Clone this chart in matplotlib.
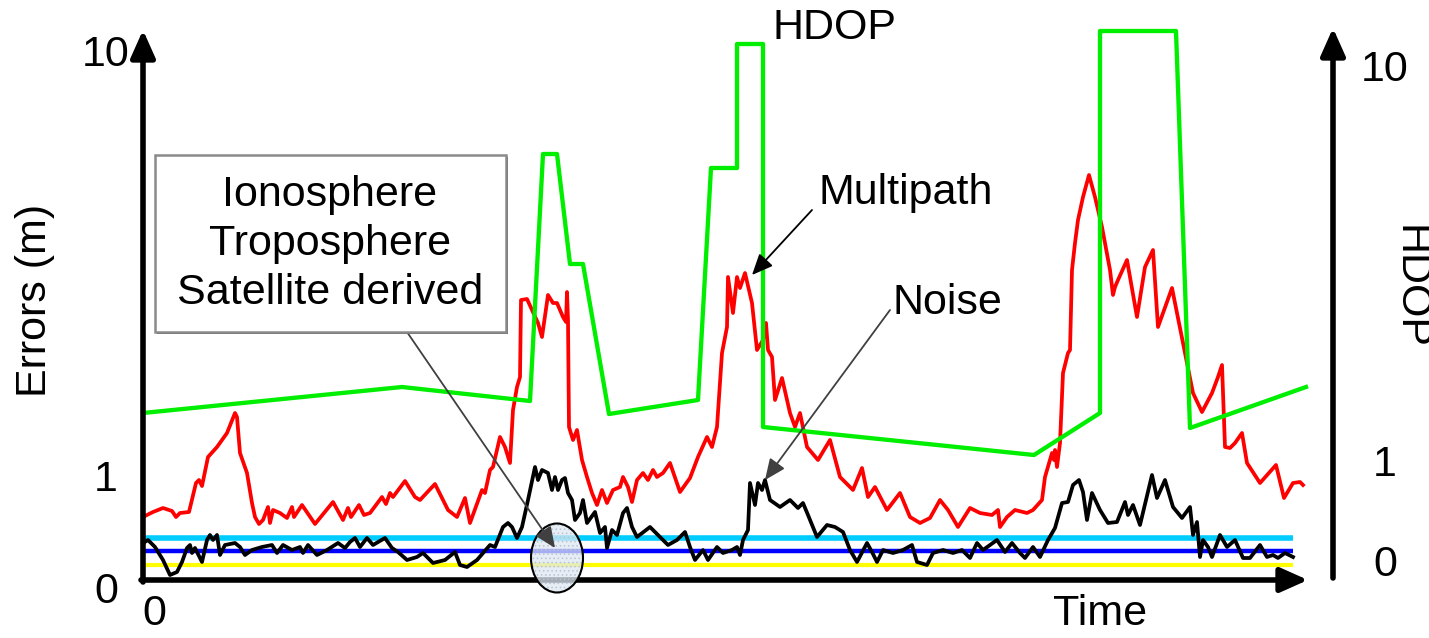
import matplotlib
matplotlib.use('Agg')
import matplotlib.pyplot as plt
from matplotlib.patches import Rectangle, Ellipse

plt.rcParams['font.family'] = ['Liberation Sans', 'DejaVu Sans']
plt.rcParams['hatch.linewidth'] = 0.6

# ---- data (schematic units: time, error display units) ----
multipath_t = [0, 10, 20, 29, 33, 37, 46, 53, 56, 59, 65, 74, 84, 92, 94, 97, 104, 109, 112, 116,
               120, 125, 127, 130, 137, 144, 149, 151, 159, 172, 190, 200, 205, 208, 216, 221, 227,
               239, 243, 247, 250, 262, 272, 277, 292, 305, 314, 322, 327, 339, 342, 347, 350, 357,
               362, 367, 370, 374, 377, 378, 384, 389, 395, 399, 405, 410, 414, 420, 423, 424, 425,
               426, 430, 434, 439, 444, 449, 454, 459, 464, 470, 477, 480, 485, 489, 494, 500, 505,
               510, 514, 520, 527, 537, 547, 555, 564, 569, 574, 579, 584, 585, 590, 594, 597, 602,
               609, 614, 620, 623, 625, 629, 632, 639, 647, 652, 657, 664, 675, 687, 697, 710, 719,
               725, 732, 744, 757, 767, 777, 787, 797, 805, 815, 827, 837, 849, 855, 857, 864, 872,
               884, 890, 899, 902, 909, 911, 912, 914, 917, 920, 925, 927, 929, 932, 935, 940, 946,
               952, 959, 967, 970, 972, 975, 984, 994, 1002, 1010, 1015, 1029, 1044, 1050, 1059,
               1069, 1075, 1079, 1082, 1087, 1092, 1099, 1104, 1117, 1133, 1141, 1150, 1157, 1160]
multipath_v = [63, 68, 72, 69, 63, 67, 68, 97, 100, 94, 123, 133, 147, 167, 163, 127, 107, 77, 63, 56,
               60, 73, 57, 70, 67, 62, 73, 63, 75, 56, 78, 60, 72, 63, 75, 65, 67,
               83, 76, 87, 83, 99, 83, 80, 96, 70, 63, 82, 57, 90, 87, 110, 113, 143,
               133, 117, 170, 193, 203, 280, 281, 270, 257, 243, 285, 277, 277, 263, 258, 288, 260,
               153, 140, 150, 120, 103, 87, 75, 90, 77, 90, 93, 103, 93, 78, 100, 107, 100,
               110, 103, 107, 117, 88, 102, 123, 143, 133, 153, 227, 253, 303, 267, 303, 292, 307,
               277, 230, 240, 257, 230, 223, 180, 202, 167, 153, 167, 133, 120, 140, 103, 90, 112,
               83, 93, 70, 87, 63, 57, 62, 80, 70, 53, 72, 67, 65, 70, 53, 63, 70,
               67, 70, 80, 103, 127, 120, 130, 113, 137, 207, 227, 230, 310, 337, 360, 383, 405,
               383, 353, 310, 285, 293, 300, 320, 263, 313, 330, 253, 292, 217, 187, 168,
               187, 203, 215, 133, 132, 137, 147, 117, 97, 115, 82, 97, 98, 95]

noise_t = [0, 5, 12, 20, 27, 34, 39, 44, 47, 49, 52, 59, 64, 67, 70, 74, 77, 82, 92, 97, 102, 109,
           119, 129, 134, 140, 149, 157, 160, 165, 174, 184, 195, 202, 207, 212, 217, 224, 230, 242,
           249, 255, 264, 274, 280, 290, 302, 312, 317, 324, 334, 340, 347, 352, 360, 365, 369, 374,
           379, 385, 392, 395, 399, 405, 409, 412, 415, 419, 422, 425, 429, 432, 437, 440, 444, 452,
           457, 462, 464, 469, 474, 480, 484, 489, 494, 507, 517, 525, 534, 542, 547, 552, 560, 565,
           574, 580, 589, 594, 597, 600, 605, 607, 612, 615, 619, 622, 627, 637, 647, 655, 660, 665,
           674, 684, 692, 700, 707, 714, 724, 729, 734, 740, 750, 760, 769, 774, 784, 790, 800, 810,
           819, 827, 834, 840, 847, 854, 862, 869, 877, 882, 890, 897, 905, 912, 919, 925, 930, 936,
           940, 944, 949, 957, 965, 974, 982, 985, 990, 997, 1009, 1014, 1022, 1030, 1039, 1047,
           1050, 1054, 1057, 1060, 1065, 1069, 1077, 1084, 1092, 1100, 1107, 1117, 1124, 1130,
           1135, 1142, 1150]
noise_v = [37, 40, 33, 20, 5, 8, 18, 32, 35, 27, 32, 18, 40, 45, 40, 45, 25, 35, 37, 33, 25, 30,
           33, 35, 27, 35, 30, 33, 27, 35, 25, 30, 37, 32, 38, 42, 33, 42, 35, 42,
           32, 28, 20, 23, 27, 17, 20, 28, 15, 13, 20, 27, 35, 33, 53, 57, 53, 42,
           53, 80, 113, 100, 110, 107, 90, 103, 90, 100, 102, 87, 80, 60, 67, 80, 57, 68,
           47, 53, 32, 50, 45, 67, 72, 53, 43, 53, 43, 35, 40, 48, 33, 20, 30, 20,
           33, 27, 30, 33, 25, 40, 50, 97, 75, 97, 90, 100, 80, 73, 80, 72, 77, 65,
           43, 55, 53, 48, 30, 18, 37, 28, 18, 30, 27, 30, 35, 18, 15, 27, 30, 27,
           30, 22, 37, 30, 35, 40, 28, 37, 27, 22, 33, 23, 40, 52, 77, 78, 95, 100,
           88, 60, 87, 70, 57, 58, 78, 65, 75, 55, 105, 82, 100, 73, 62, 73,
           45, 58, 23, 40, 33, 23, 45, 33, 40, 22, 22, 35, 23, 25,
           22, 27, 23]

hdop_t = [0, 259, 387, 400, 414, 427, 440, 466, 555, 568, 594, 594, 620, 620, 891, 957, 957,
          1033, 1047, 1163]
hdop_v = [167, 193, 179, 426, 426, 316, 316, 166, 180, 412, 412, 536, 536, 153, 125, 167, 549,
          549, 152, 193]

bias_levels = [42, 29, 15]          # ionosphere, troposphere, satellite derived
bias_colors = ['#00ccff', '#0000ff', '#ffff00']
bias_widths = [4.0, 3.2, 3.0]
bias_t = [0, 1150]

left_tick_pos = [-12, 100, 525]
left_tick_labels = ['0', '1', '10']
right_tick_pos = [15, 115, 510]
right_tick_labels = ['0', '1', '10']

FS = 31

fig = plt.figure(figsize=(14.29, 6.38), dpi=100)
ax = fig.add_axes([0, 0, 1, 1])
ax.set_xlim(-143, 1286)
ax.set_ylim(-58, 580)
ax.axis('off')

# constant bias lines
for lvl, c, w in zip(bias_levels, bias_colors, bias_widths):
    ax.plot(bias_t, [lvl, lvl], color=c, lw=w, solid_capstyle='butt', zorder=2)

# noise, multipath, hdop
ax.plot(noise_t, noise_v, color='black', lw=2.7, zorder=3, solid_joinstyle='round')
ax.plot(multipath_t, multipath_v, color='#ff0000', lw=2.7, zorder=4, solid_joinstyle='round')
ax.plot(hdop_t, hdop_v, color='#00ee00', lw=3.1, zorder=5)

# axes with arrows
akw = dict(arrowstyle='-|>,head_length=0.83,head_width=0.37', color='black', lw=4.0,
           mutation_scale=20, shrinkA=0, shrinkB=0)
ax.annotate('', xy=(0, 550), xytext=(0, -2), arrowprops=akw, zorder=6)
ax.annotate('', xy=(1165, 0), xytext=(-2, 0), arrowprops=akw, zorder=6)
ax.annotate('', xy=(1190, 552), xytext=(1190, 2), arrowprops=akw, zorder=6)

# tick labels
for p, l in zip(left_tick_pos, left_tick_labels):
    ax.text(-37, p, l, ha='center', va='center', fontsize=FS)
ax.text(11, -45, '0', ha='center', va='baseline', fontsize=FS)
ax.text(957, -45, 'Time', ha='center', va='baseline', fontsize=FS)
for p, l in zip(right_tick_pos, right_tick_labels):
    ax.text(1242, p, l, ha='center', va='center', fontsize=FS)

ax.text(-108, 280, 'Errors (m)', rotation=90, ha='center', va='center', fontsize=FS)
ax.text(1267, 293, 'HDOP', rotation=-90, ha='center', va='center', fontsize=FS)
ax.text(692, 552, 'HDOP', ha='center', va='center', fontsize=FS)

# annotations
ax.text(763, 387, 'Multipath', ha='center', va='center', fontsize=FS)
ax.annotate('', xy=(609, 305), xytext=(669, 370),
            arrowprops=dict(arrowstyle='-|>,head_length=0.8,head_width=0.35', color='black',
                            lw=1.3, mutation_scale=16, shrinkA=0, shrinkB=0), zorder=7)
ax.text(804, 277, 'Noise', ha='center', va='center', fontsize=FS)
ax.annotate('', xy=(622, 100), xytext=(747, 270),
            arrowprops=dict(arrowstyle='-|>,head_length=0.8,head_width=0.35', color='#404040',
                            lw=1.3, mutation_scale=16, shrinkA=0, shrinkB=0), zorder=7)

# ellipse marking bias lines
ax.add_patch(Ellipse((414, 22), 52, 69, facecolor='#dfe7f1', edgecolor='none',
                     alpha=0.75, zorder=6))
ax.add_patch(Ellipse((414, 22), 52, 69, facecolor='none', edgecolor='#b8c4d2', lw=0,
                     hatch='....', zorder=6))
ax.add_patch(Ellipse((414, 22), 52, 69, facecolor='none', edgecolor='black', lw=1.5, zorder=6))

# text box
ax.add_patch(Rectangle((14, 246), 351, 177, facecolor='#606060', edgecolor='none', zorder=7))
ax.add_patch(Rectangle((12, 248), 351, 177, facecolor='white', edgecolor='#8a8a8a', lw=1.8,
                       zorder=8))
ax.text(187, 336, 'Ionosphere\nTroposphere\nSatellite derived', ha='center', va='center',
        fontsize=FS, linespacing=1.3, zorder=9)
ax.annotate('', xy=(412, 32), xytext=(264, 248),
            arrowprops=dict(arrowstyle='-|>,head_length=0.8,head_width=0.35', color='#404040',
                            lw=1.3, mutation_scale=16, shrinkA=0, shrinkB=0), zorder=7)

fig.savefig('out.png', dpi=100)
